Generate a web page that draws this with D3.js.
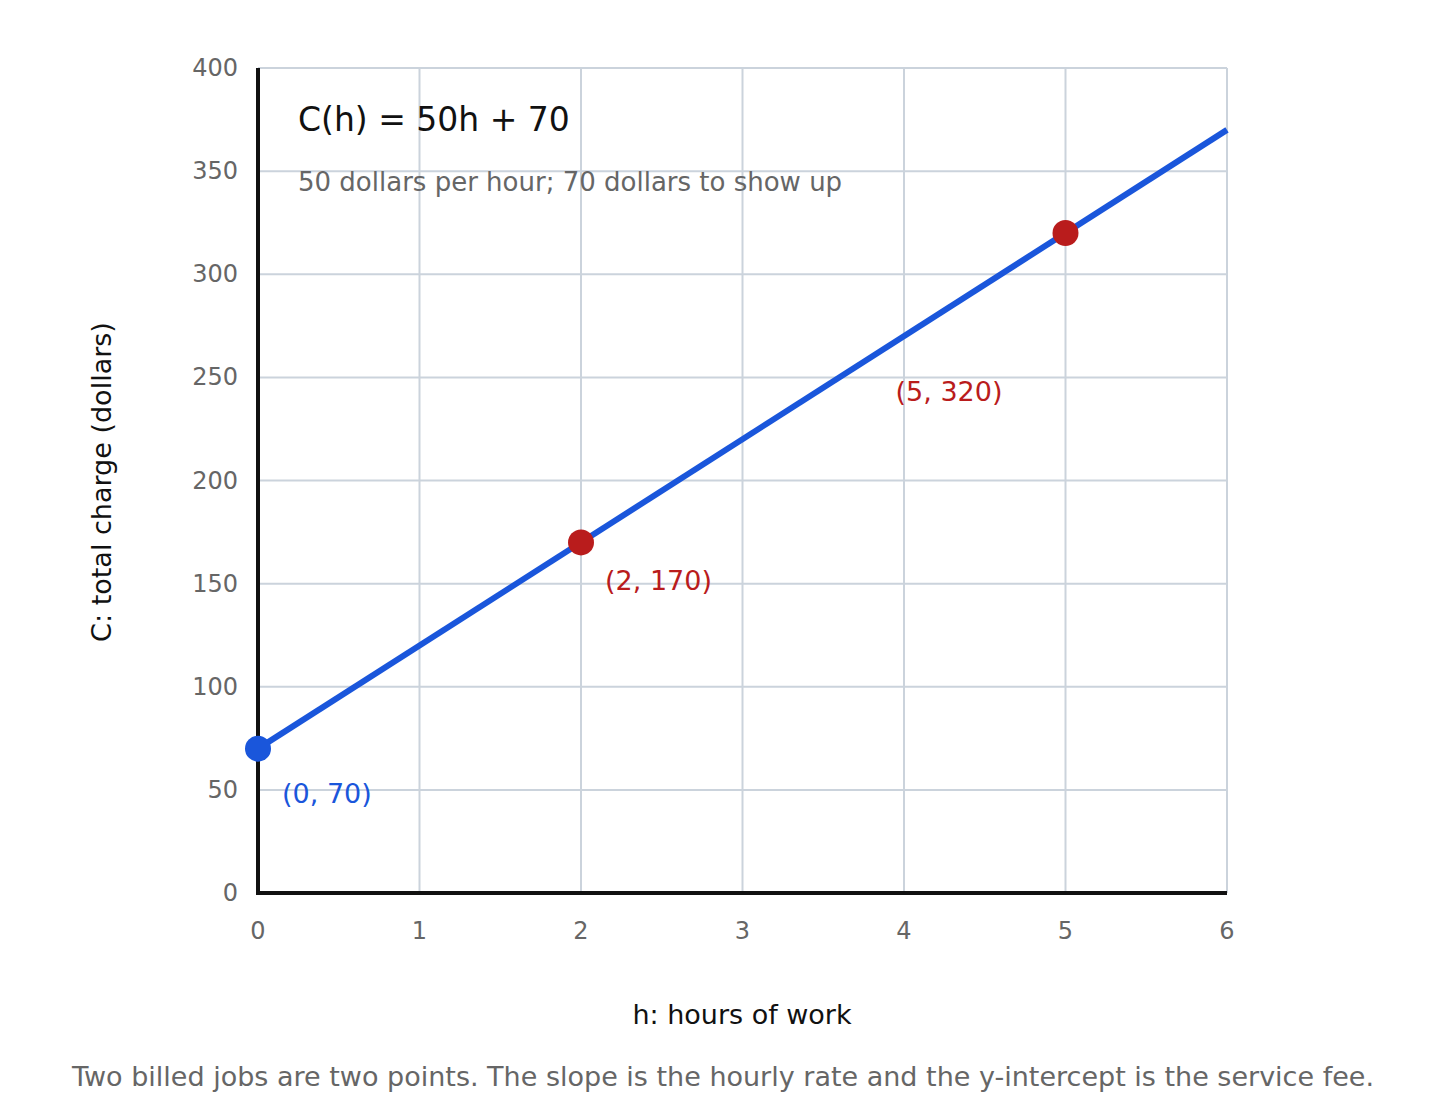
<!DOCTYPE html><html><head><meta charset="utf-8"><script src="https://cdn.jsdelivr.net/npm/d3@7"></script>
<style>body{margin:0;background:#fff}text{font-family:"DejaVu Sans",sans-serif}</style></head><body>
<svg id="c" width="1446" height="1112"></svg>
<script>
const xTicks=[0,1,2,3,4,5,6];
const yTicks=[0,50,100,150,200,250,300,350,400];
const lineX=[0,6];
const lineY=[70,370];
const pts=[{h:0,c:70,label:"(0, 70)",color:"#1a56db",dx:24,dy:54},{h:2,c:170,label:"(2, 170)",color:"#b91c1c",dx:24,dy:48},{h:5,c:320,label:"(5, 320)",color:"#b91c1c",dx:-170,dy:168}];
const svg=d3.select("#c");
const x=d3.scaleLinear().domain([0,6]).range([258,1227]);
const y=d3.scaleLinear().domain([0,400]).range([893,68]);
const g=svg.append("g");
g.selectAll(".vx").data(xTicks).join("line").attr("x1",d=>x(d)).attr("x2",d=>x(d)).attr("y1",y(0)).attr("y2",y(400)).attr("stroke","#cbd3dc").attr("stroke-width",2);
g.selectAll(".hy").data(yTicks).join("line").attr("y1",d=>y(d)).attr("y2",d=>y(d)).attr("x1",x(0)).attr("x2",x(6)).attr("stroke","#cbd3dc").attr("stroke-width",2);
g.selectAll(".xt").data(xTicks).join("text").attr("x",d=>x(d)).attr("y",939).attr("text-anchor","middle").attr("font-size",24).attr("fill","#666").text(d=>d);
g.selectAll(".yt").data(yTicks).join("text").attr("x",238).attr("y",d=>y(d)+8).attr("text-anchor","end").attr("font-size",24).attr("fill","#666").text(d=>d);
function halo(t){t.clone(true).lower().attr("stroke","#fff").attr("stroke-width",10).attr("stroke-linejoin","round");}
const t1=svg.append("text").attr("x",298).attr("y",131).attr("font-size",33).attr("fill","#111").text("C(h) = 50h + 70");halo(t1);
const t2=svg.append("text").attr("x",298).attr("y",191).attr("font-size",26).attr("fill","#666").text("50 dollars per hour; 70 dollars to show up");halo(t2);
svg.append("line").attr("x1",x(0)).attr("x2",x(0)).attr("y1",y(400)).attr("y2",y(0)+2).attr("stroke","#111").attr("stroke-width",4);
svg.append("line").attr("x1",x(0)-2).attr("x2",x(6)).attr("y1",y(0)).attr("y2",y(0)).attr("stroke","#111").attr("stroke-width",4);
svg.append("path").attr("d",d3.line().x((d,i)=>x(d)).y((d,i)=>y(lineY[i]))(lineX)).attr("stroke","#1a56db").attr("stroke-width",6).attr("fill","none");
pts.forEach(p=>{
svg.append("circle").attr("cx",x(p.h)).attr("cy",y(p.c)).attr("r",13).attr("fill",p.color);
const t=svg.append("text").attr("x",x(p.h)+p.dx).attr("y",y(p.c)+p.dy).attr("font-size",27).attr("fill",p.color).text(p.label);halo(t);
});
svg.append("text").attr("x",742).attr("y",1024).attr("text-anchor","middle").attr("font-size",27).attr("fill","#111").text("h: hours of work");
svg.append("text").attr("transform","translate(111,482) rotate(-90)").attr("text-anchor","middle").attr("font-size",27).attr("fill","#111").text("C: total charge (dollars)");
svg.append("text").attr("x",723).attr("y",1086).attr("text-anchor","middle").attr("font-size",27).attr("fill","#666").text("Two billed jobs are two points. The slope is the hourly rate and the y-intercept is the service fee.");
</script></body></html>
